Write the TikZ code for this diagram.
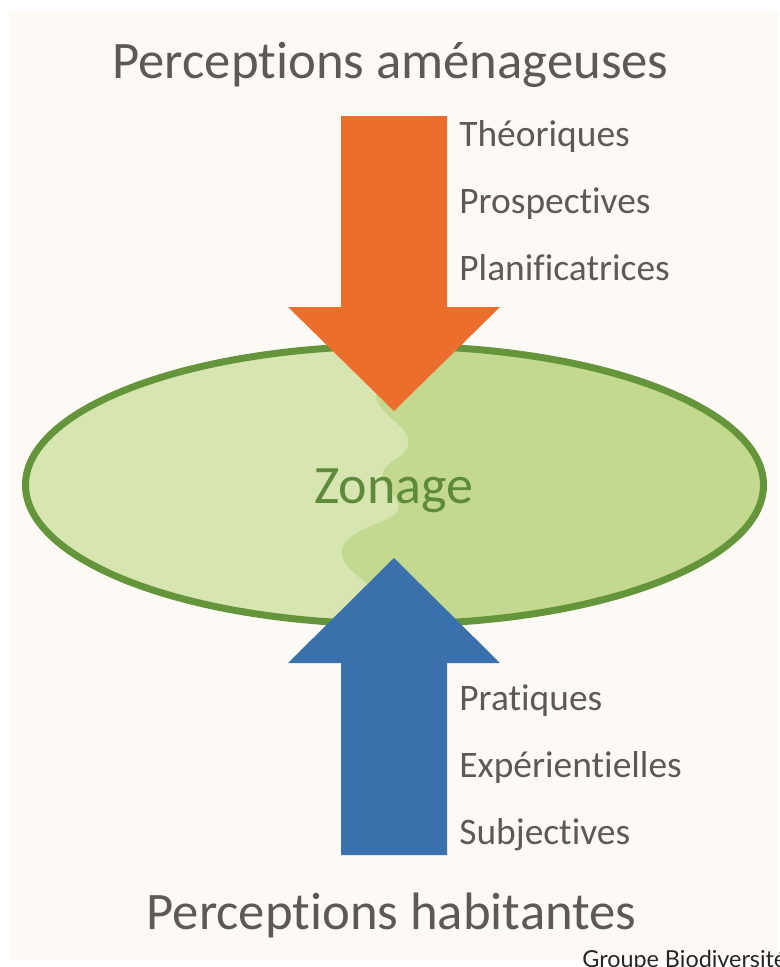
\documentclass[tikz,border=0pt]{standalone}
\usepackage{fontspec}
\setmainfont{Carlito}[Ligatures=NoCommon]
\newfontfamily\creditfont{Lato}
\usepackage{xcolor}
\usepackage{tikz}
\usetikzlibrary{positioning, calc}

\definecolor{paper}{HTML}{FDFAF5}
\definecolor{amorange}{HTML}{EB6E2C}
\definecolor{habblue}{HTML}{3A70AC}
\definecolor{ringgreen}{HTML}{64953B}
\definecolor{zonelight}{HTML}{D7E5B1}
\definecolor{zonedark}{HTML}{C3D98F}
\definecolor{zonetext}{HTML}{5D8B3A}
\definecolor{txtgray}{HTML}{5F5955}

\tikzset{
  title/.style = {font=\fontsize{30pt}{34pt}\selectfont, text=txtgray, inner sep=0pt},
  sublabel/.style = {font=\fontsize{21.3pt}{25pt}\selectfont, text=txtgray, inner sep=0pt,
    text height=0.7cm, text depth=0.63cm},
  bigarrow/.style = {draw=none},
}

\begin{document}
\begin{tikzpicture}[x=0.02cm, y=-0.02cm, node distance=0pt]

  \useasboundingbox (0,0) rectangle (779,967);
  \fill[paper] (9,11) rectangle (779,960);

  % Zonage ellipse with its two halves
  \coordinate (zc) at (394.5,485);
  \fill[zonelight] (zc) ellipse [x radius=369, y radius=139];
  \begin{scope}
    \clip (zc) ellipse [x radius=369, y radius=139];
    \fill[zonedark] (380,330) -- (376,398)
      .. controls (384,420) and (412,426) .. (408,446)
      .. controls (404,460) and (380,462) .. (383,478)
      .. controls (386,492) and (404,500) .. (397,512)
      .. controls (388,524) and (348,528) .. (342,549)
      .. controls (338,563) and (358,575) .. (368,585)
      -- (372,640) -- (780,640) -- (780,330) -- cycle;
  \end{scope}
  \draw[ringgreen, line width=0.14cm] (zc) ellipse [x radius=369, y radius=139];
  \node[font=\fontsize{30.8pt}{35pt}\selectfont, text=zonetext, inner sep=0pt,
    anchor=base] (zone) at (394,503) {Zonage};

  % Top arrow
  \fill[amorange, bigarrow] (341,116) -- (447,116) -- (447,307) -- (500,307)
    -- (394,411) -- (288,307) -- (341,307) -- cycle;

  % Bottom arrow
  \fill[habblue, bigarrow] (341,855) -- (447,855) -- (447,663) -- (500,663)
    -- (394,558) -- (288,663) -- (341,663) -- cycle;

  % Titles
  \node[title, anchor=base] (amtitle) at (390.5,78) {Perceptions aménageuses};
  \node[title, anchor=base] (habtitle) at (391.5,929) {Perceptions habitantes};

  % Planner side
  \node[sublabel, anchor=base west] (theo) at (459,146) {Théoriques};
  \node[sublabel, below=of theo.south west, anchor=north west] (pros) {Prospectives};
  \node[sublabel, below=of pros.south west, anchor=north west] (plan) {Planificatrices};

  % Inhabitant side
  \node[sublabel, anchor=base west] (prat) at (459,710) {Pratiques};
  \node[sublabel, below=of prat.south west, anchor=north west] (expe) {Expérientielles};
  \node[sublabel, below=of expe.south west, anchor=north west] (subj) {Subjectives};

  % Credit
  \node[font=\creditfont\fontsize{13.3pt}{15pt}\selectfont, text=black!85, inner sep=0pt,
    anchor=base west] (credit) at (582,967) {Groupe Biodiversité};

\end{tikzpicture}
\end{document}
